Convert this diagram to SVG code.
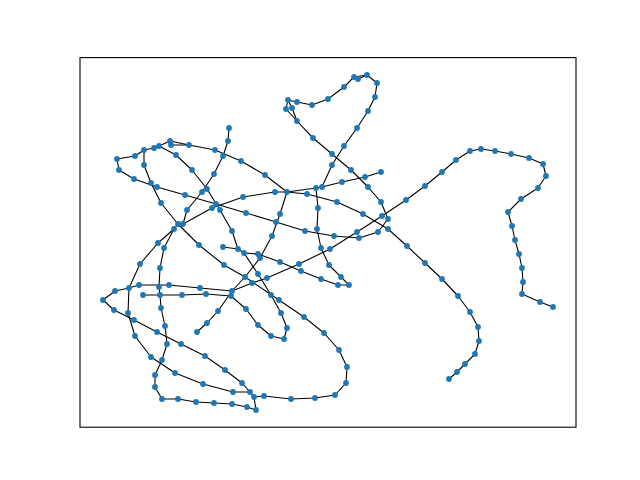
<svg xmlns="http://www.w3.org/2000/svg" width="640" height="480" viewBox="0 0 640 480">
<style>
.e{fill:none;stroke:#000;stroke-width:1.1;stroke-linejoin:round}
.nodes circle{fill:#1f77b4}
</style>
<rect width="640" height="480" fill="#fff"/>
<rect x="80" y="57.6" width="496" height="369.6" fill="none" stroke="#000" stroke-width="1.1"/>
<g id="edges">
<polyline class="e" points="117,159 135,156 144,150 154,148 159,146 170,141 189,145 215,150 241,161 265,175 287,192"/>
<polyline class="e" points="170,141 171,145 189,145"/>
<polyline class="e" points="159,146 176,155 192,170 207,189 220,210 232,231 238,249 244,253 258,274 271,295 281,313 287,328 284,339 271,336 258,325 246,309 231,296 232,291"/>
<polyline class="e" points="144,150 144,165 151,183 161,203 178,224 199,245 224,265 245,277 279,300 304,317 324,333 339,350 347,367 346,383 335,395 315,398 291,399 264,396 254,397 256,410 247,407 232,404 214,403 196,402 178,399 162,399 155,387 155,375 162,360 167,344 165,326 161,308 160,295 159,287 160,268 164,248 174,229 178,224"/>
<polyline class="e" points="117,159 119,170 134,179 157,187 185,195 216,204 246,213 276,222 305,231 334,236 359,238 378,232 388,219"/>
<polyline class="e" points="229,128 228,141 223,156 214,174 202,192 187,210 183,224 212,208 243,197 275,192 287,192"/>
<polyline class="e" points="174,229 158,243 140,264 129,288 128,313 135,336 151,357 175,373 203,384 233,392 250,392 254,397"/>
<polyline class="e" points="103,300 115,291 129,288 139,285 169,285 200,288 232,291 245,277 260,258 272,236 280,214 287,192"/>
<polyline class="e" points="143,295 160,295 182,295 206,294 231,296"/>
<polyline class="e" points="103,300 114,310 134,320 157,332 181,344 205,356 225,370 242,383 250,392"/>
<polyline class="e" points="232,291 218,311 207,323 197,332"/>
<polyline class="e" points="232,291 252,283 267,278 299,264 330,249 357,232 382,216 406,200 425,186 442,172 456,160 470,151 481,149 495,151 511,154 529,158 543,164 546,176 538,188 521,199 508,212 512,226 515,240 519,254 522,268 523,282 522,294 540,302 553,307"/>
<polyline class="e" points="223,247 238,249"/>
<polyline class="e" points="244,253 258,254 280,262 301,271 321,279 338,285 349,285 341,277 329,265 321,248 317,229 318,208 316,188 287,192"/>
<polyline class="e" points="316,188 322,187 342,182 365,177 381,172"/>
<polyline class="e" points="322,187 332,165 344,146 357,128 368,111 375,97 377,83 367,75 358,79 354,77 344,87 328,99 312,105 297,102 288,100 286,109 297,121 313,138 332,154 351,170 368,187 381,202 388,219"/>
<polyline class="e" points="288,100 292,108 297,121"/>
<polyline class="e" points="354,77 367,75"/>
<polyline class="e" points="287,192 307,194 337,202 363,214 388,229 407,246 425,263 442,279 458,296 470,312 478,327 479,341 475,354 465,364 457,372 449,379"/>
</g>
<g class="nodes">
<g id="n1"><circle cx="117" cy="159" r="2.9"/></g>
<g id="n2"><circle cx="135" cy="156" r="2.9"/></g>
<g id="n3"><circle cx="144" cy="150" r="2.9"/></g>
<g id="n4"><circle cx="154" cy="148" r="2.9"/></g>
<g id="n5"><circle cx="159" cy="146" r="2.9"/></g>
<g id="n6"><circle cx="170" cy="141" r="2.9"/></g>
<g id="n7"><circle cx="189" cy="145" r="2.9"/></g>
<g id="n8"><circle cx="215" cy="150" r="2.9"/></g>
<g id="n9"><circle cx="241" cy="161" r="2.9"/></g>
<g id="n10"><circle cx="265" cy="175" r="2.9"/></g>
<g id="n11"><circle cx="287" cy="192" r="2.9"/></g>
<g id="n12"><circle cx="171" cy="145" r="2.9"/></g>
<g id="n13"><circle cx="176" cy="155" r="2.9"/></g>
<g id="n14"><circle cx="192" cy="170" r="2.9"/></g>
<g id="n15"><circle cx="207" cy="189" r="2.9"/></g>
<g id="n16"><circle cx="220" cy="210" r="2.9"/></g>
<g id="n17"><circle cx="232" cy="231" r="2.9"/></g>
<g id="n18"><circle cx="238" cy="249" r="2.9"/></g>
<g id="n19"><circle cx="244" cy="253" r="2.9"/></g>
<g id="n20"><circle cx="258" cy="274" r="2.9"/></g>
<g id="n21"><circle cx="271" cy="295" r="2.9"/></g>
<g id="n22"><circle cx="281" cy="313" r="2.9"/></g>
<g id="n23"><circle cx="287" cy="328" r="2.9"/></g>
<g id="n24"><circle cx="284" cy="339" r="2.9"/></g>
<g id="n25"><circle cx="271" cy="336" r="2.9"/></g>
<g id="n26"><circle cx="258" cy="325" r="2.9"/></g>
<g id="n27"><circle cx="246" cy="309" r="2.9"/></g>
<g id="n28"><circle cx="231" cy="296" r="2.9"/></g>
<g id="n29"><circle cx="144" cy="165" r="2.9"/></g>
<g id="n30"><circle cx="151" cy="183" r="2.9"/></g>
<g id="n31"><circle cx="161" cy="203" r="2.9"/></g>
<g id="n32"><circle cx="178" cy="224" r="2.9"/></g>
<g id="n33"><circle cx="199" cy="245" r="2.9"/></g>
<g id="n34"><circle cx="224" cy="265" r="2.9"/></g>
<g id="n35"><circle cx="245" cy="277" r="2.9"/></g>
<g id="n36"><circle cx="279" cy="300" r="2.9"/></g>
<g id="n37"><circle cx="304" cy="317" r="2.9"/></g>
<g id="n38"><circle cx="324" cy="333" r="2.9"/></g>
<g id="n39"><circle cx="339" cy="350" r="2.9"/></g>
<g id="n40"><circle cx="347" cy="367" r="2.9"/></g>
<g id="n41"><circle cx="346" cy="383" r="2.9"/></g>
<g id="n42"><circle cx="335" cy="395" r="2.9"/></g>
<g id="n43"><circle cx="315" cy="398" r="2.9"/></g>
<g id="n44"><circle cx="291" cy="399" r="2.9"/></g>
<g id="n45"><circle cx="264" cy="396" r="2.9"/></g>
<g id="n46"><circle cx="254" cy="397" r="2.9"/></g>
<g id="n47"><circle cx="256" cy="410" r="2.9"/></g>
<g id="n48"><circle cx="247" cy="407" r="2.9"/></g>
<g id="n49"><circle cx="232" cy="404" r="2.9"/></g>
<g id="n50"><circle cx="214" cy="403" r="2.9"/></g>
<g id="n51"><circle cx="196" cy="402" r="2.9"/></g>
<g id="n52"><circle cx="178" cy="399" r="2.9"/></g>
<g id="n53"><circle cx="162" cy="399" r="2.9"/></g>
<g id="n54"><circle cx="155" cy="387" r="2.9"/></g>
<g id="n55"><circle cx="155" cy="375" r="2.9"/></g>
<g id="n56"><circle cx="162" cy="360" r="2.9"/></g>
<g id="n57"><circle cx="167" cy="344" r="2.9"/></g>
<g id="n58"><circle cx="165" cy="326" r="2.9"/></g>
<g id="n59"><circle cx="161" cy="308" r="2.9"/></g>
<g id="n60"><circle cx="160" cy="295" r="2.9"/></g>
<g id="n61"><circle cx="159" cy="287" r="2.9"/></g>
<g id="n62"><circle cx="160" cy="268" r="2.9"/></g>
<g id="n63"><circle cx="164" cy="248" r="2.9"/></g>
<g id="n64"><circle cx="174" cy="229" r="2.9"/></g>
<g id="n65"><circle cx="119" cy="170" r="2.9"/></g>
<g id="n66"><circle cx="134" cy="179" r="2.9"/></g>
<g id="n67"><circle cx="157" cy="187" r="2.9"/></g>
<g id="n68"><circle cx="185" cy="195" r="2.9"/></g>
<g id="n69"><circle cx="216" cy="204" r="2.9"/></g>
<g id="n70"><circle cx="246" cy="213" r="2.9"/></g>
<g id="n71"><circle cx="276" cy="222" r="2.9"/></g>
<g id="n72"><circle cx="305" cy="231" r="2.9"/></g>
<g id="n73"><circle cx="334" cy="236" r="2.9"/></g>
<g id="n74"><circle cx="359" cy="238" r="2.9"/></g>
<g id="n75"><circle cx="378" cy="232" r="2.9"/></g>
<g id="n76"><circle cx="388" cy="219" r="2.9"/></g>
<g id="n77"><circle cx="229" cy="128" r="2.9"/></g>
<g id="n78"><circle cx="228" cy="141" r="2.9"/></g>
<g id="n79"><circle cx="223" cy="156" r="2.9"/></g>
<g id="n80"><circle cx="214" cy="174" r="2.9"/></g>
<g id="n81"><circle cx="202" cy="192" r="2.9"/></g>
<g id="n82"><circle cx="187" cy="210" r="2.9"/></g>
<g id="n83"><circle cx="183" cy="224" r="2.9"/></g>
<g id="n84"><circle cx="212" cy="208" r="2.9"/></g>
<g id="n85"><circle cx="243" cy="197" r="2.9"/></g>
<g id="n86"><circle cx="275" cy="192" r="2.9"/></g>
<g id="n87"><circle cx="158" cy="243" r="2.9"/></g>
<g id="n88"><circle cx="140" cy="264" r="2.9"/></g>
<g id="n89"><circle cx="129" cy="288" r="2.9"/></g>
<g id="n90"><circle cx="128" cy="313" r="2.9"/></g>
<g id="n91"><circle cx="135" cy="336" r="2.9"/></g>
<g id="n92"><circle cx="151" cy="357" r="2.9"/></g>
<g id="n93"><circle cx="175" cy="373" r="2.9"/></g>
<g id="n94"><circle cx="203" cy="384" r="2.9"/></g>
<g id="n95"><circle cx="233" cy="392" r="2.9"/></g>
<g id="n96"><circle cx="250" cy="392" r="2.9"/></g>
<g id="n97"><circle cx="103" cy="300" r="2.9"/></g>
<g id="n98"><circle cx="115" cy="291" r="2.9"/></g>
<g id="n99"><circle cx="139" cy="285" r="2.9"/></g>
<g id="n100"><circle cx="169" cy="285" r="2.9"/></g>
<g id="n101"><circle cx="200" cy="288" r="2.9"/></g>
<g id="n102"><circle cx="232" cy="291" r="2.9"/></g>
<g id="n103"><circle cx="260" cy="258" r="2.9"/></g>
<g id="n104"><circle cx="272" cy="236" r="2.9"/></g>
<g id="n105"><circle cx="280" cy="214" r="2.9"/></g>
<g id="n106"><circle cx="143" cy="295" r="2.9"/></g>
<g id="n107"><circle cx="182" cy="295" r="2.9"/></g>
<g id="n108"><circle cx="206" cy="294" r="2.9"/></g>
<g id="n109"><circle cx="114" cy="310" r="2.9"/></g>
<g id="n110"><circle cx="134" cy="320" r="2.9"/></g>
<g id="n111"><circle cx="157" cy="332" r="2.9"/></g>
<g id="n112"><circle cx="181" cy="344" r="2.9"/></g>
<g id="n113"><circle cx="205" cy="356" r="2.9"/></g>
<g id="n114"><circle cx="225" cy="370" r="2.9"/></g>
<g id="n115"><circle cx="242" cy="383" r="2.9"/></g>
<g id="n116"><circle cx="218" cy="311" r="2.9"/></g>
<g id="n117"><circle cx="207" cy="323" r="2.9"/></g>
<g id="n118"><circle cx="197" cy="332" r="2.9"/></g>
<g id="n119"><circle cx="252" cy="283" r="2.9"/></g>
<g id="n120"><circle cx="267" cy="278" r="2.9"/></g>
<g id="n121"><circle cx="299" cy="264" r="2.9"/></g>
<g id="n122"><circle cx="330" cy="249" r="2.9"/></g>
<g id="n123"><circle cx="357" cy="232" r="2.9"/></g>
<g id="n124"><circle cx="382" cy="216" r="2.9"/></g>
<g id="n125"><circle cx="406" cy="200" r="2.9"/></g>
<g id="n126"><circle cx="425" cy="186" r="2.9"/></g>
<g id="n127"><circle cx="442" cy="172" r="2.9"/></g>
<g id="n128"><circle cx="456" cy="160" r="2.9"/></g>
<g id="n129"><circle cx="470" cy="151" r="2.9"/></g>
<g id="n130"><circle cx="481" cy="149" r="2.9"/></g>
<g id="n131"><circle cx="495" cy="151" r="2.9"/></g>
<g id="n132"><circle cx="511" cy="154" r="2.9"/></g>
<g id="n133"><circle cx="529" cy="158" r="2.9"/></g>
<g id="n134"><circle cx="543" cy="164" r="2.9"/></g>
<g id="n135"><circle cx="546" cy="176" r="2.9"/></g>
<g id="n136"><circle cx="538" cy="188" r="2.9"/></g>
<g id="n137"><circle cx="521" cy="199" r="2.9"/></g>
<g id="n138"><circle cx="508" cy="212" r="2.9"/></g>
<g id="n139"><circle cx="512" cy="226" r="2.9"/></g>
<g id="n140"><circle cx="515" cy="240" r="2.9"/></g>
<g id="n141"><circle cx="519" cy="254" r="2.9"/></g>
<g id="n142"><circle cx="522" cy="268" r="2.9"/></g>
<g id="n143"><circle cx="523" cy="282" r="2.9"/></g>
<g id="n144"><circle cx="522" cy="294" r="2.9"/></g>
<g id="n145"><circle cx="540" cy="302" r="2.9"/></g>
<g id="n146"><circle cx="553" cy="307" r="2.9"/></g>
<g id="n147"><circle cx="223" cy="247" r="2.9"/></g>
<g id="n148"><circle cx="258" cy="254" r="2.9"/></g>
<g id="n149"><circle cx="280" cy="262" r="2.9"/></g>
<g id="n150"><circle cx="301" cy="271" r="2.9"/></g>
<g id="n151"><circle cx="321" cy="279" r="2.9"/></g>
<g id="n152"><circle cx="338" cy="285" r="2.9"/></g>
<g id="n153"><circle cx="349" cy="285" r="2.9"/></g>
<g id="n154"><circle cx="341" cy="277" r="2.9"/></g>
<g id="n155"><circle cx="329" cy="265" r="2.9"/></g>
<g id="n156"><circle cx="321" cy="248" r="2.9"/></g>
<g id="n157"><circle cx="317" cy="229" r="2.9"/></g>
<g id="n158"><circle cx="318" cy="208" r="2.9"/></g>
<g id="n159"><circle cx="316" cy="188" r="2.9"/></g>
<g id="n160"><circle cx="322" cy="187" r="2.9"/></g>
<g id="n161"><circle cx="342" cy="182" r="2.9"/></g>
<g id="n162"><circle cx="365" cy="177" r="2.9"/></g>
<g id="n163"><circle cx="381" cy="172" r="2.9"/></g>
<g id="n164"><circle cx="332" cy="165" r="2.9"/></g>
<g id="n165"><circle cx="344" cy="146" r="2.9"/></g>
<g id="n166"><circle cx="357" cy="128" r="2.9"/></g>
<g id="n167"><circle cx="368" cy="111" r="2.9"/></g>
<g id="n168"><circle cx="375" cy="97" r="2.9"/></g>
<g id="n169"><circle cx="377" cy="83" r="2.9"/></g>
<g id="n170"><circle cx="367" cy="75" r="2.9"/></g>
<g id="n171"><circle cx="358" cy="79" r="2.9"/></g>
<g id="n172"><circle cx="354" cy="77" r="2.9"/></g>
<g id="n173"><circle cx="344" cy="87" r="2.9"/></g>
<g id="n174"><circle cx="328" cy="99" r="2.9"/></g>
<g id="n175"><circle cx="312" cy="105" r="2.9"/></g>
<g id="n176"><circle cx="297" cy="102" r="2.9"/></g>
<g id="n177"><circle cx="288" cy="100" r="2.9"/></g>
<g id="n178"><circle cx="286" cy="109" r="2.9"/></g>
<g id="n179"><circle cx="292" cy="108" r="2.9"/></g>
<g id="n180"><circle cx="297" cy="121" r="2.9"/></g>
<g id="n181"><circle cx="313" cy="138" r="2.9"/></g>
<g id="n182"><circle cx="332" cy="154" r="2.9"/></g>
<g id="n183"><circle cx="351" cy="170" r="2.9"/></g>
<g id="n184"><circle cx="368" cy="187" r="2.9"/></g>
<g id="n185"><circle cx="381" cy="202" r="2.9"/></g>
<g id="n186"><circle cx="307" cy="194" r="2.9"/></g>
<g id="n187"><circle cx="337" cy="202" r="2.9"/></g>
<g id="n188"><circle cx="363" cy="214" r="2.9"/></g>
<g id="n189"><circle cx="388" cy="229" r="2.9"/></g>
<g id="n190"><circle cx="407" cy="246" r="2.9"/></g>
<g id="n191"><circle cx="425" cy="263" r="2.9"/></g>
<g id="n192"><circle cx="442" cy="279" r="2.9"/></g>
<g id="n193"><circle cx="458" cy="296" r="2.9"/></g>
<g id="n194"><circle cx="470" cy="312" r="2.9"/></g>
<g id="n195"><circle cx="478" cy="327" r="2.9"/></g>
<g id="n196"><circle cx="479" cy="341" r="2.9"/></g>
<g id="n197"><circle cx="475" cy="354" r="2.9"/></g>
<g id="n198"><circle cx="465" cy="364" r="2.9"/></g>
<g id="n199"><circle cx="457" cy="372" r="2.9"/></g>
<g id="n200"><circle cx="449" cy="379" r="2.9"/></g>
</g>
</svg>
